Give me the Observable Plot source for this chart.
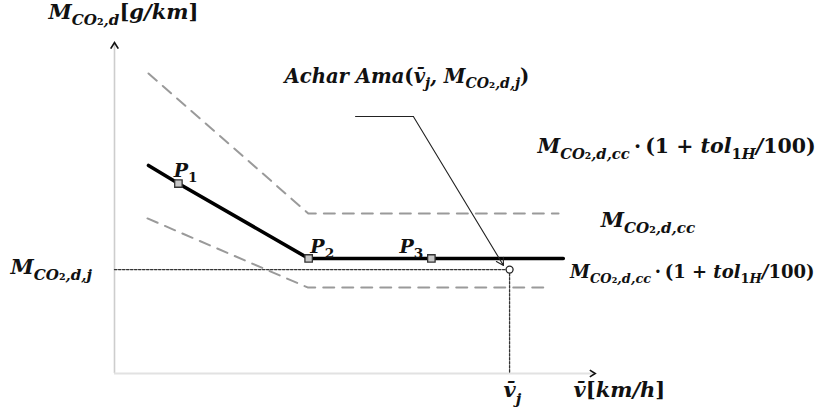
<!DOCTYPE html>
<html>
<head>
<meta charset="utf-8">
<script src="https://cdn.jsdelivr.net/npm/d3@7"></script>
<script src="https://cdn.jsdelivr.net/npm/@observablehq/plot@0.6"></script>
<style>
  body { margin: 0; background: #fff; }
</style>
</head>
<body>
<div id="chart"></div>
<script>
// Reference CO2 curve: speed (km/h) against CO2 mass emission (g/km)
const curveSpeed = [10, 18.8, 57.1, 93.2, 132];
const curveMass  = [125.7, 114.8, 69.5, 69.5, 69.5];

// Interpolation nodes on the curve
const nodeNames = ["P_{1}", "P_{2}", "P_{3}"];
const nodeSpeed = [18.8, 57.1, 93.2];
const nodeMass  = [114.8, 69.5, 69.5];

// Tolerance band around the curve
const upperSpeed = [10, 57, 130.6];
const upperMass  = [181.3, 96.7, 96.7];
const lowerSpeed = [9.7, 56.8, 126.8];
const lowerMass  = [93.7, 52, 52];

// Test point j
const testSpeed = 116.2;
const testMass  = 62.8;

// Annotation leader: horizontal run, then arrow to the test point
const leaderSpeed = [70.9, 87.9, 114.4];
const leaderMass  = [155.3, 155.3, 65.3];

// Axis extents (arrow tips)
const axisSpeedEnd = 141.4;
const axisMassEnd  = 200;

// Formula labels (subscripts written as _{...}) and their anchors
const labelText = [
  "M_{CO₂,d}[g/km]",
  "Achar Ama(v̄_{j}, M_{CO₂,d,j})",
  "M_{CO₂,d,cc}\u2009·\u2009(1 + tol_{1H}/100)",
  "M_{CO₂,d,cc}",
  "M_{CO₂,d,cc}\u2009·\u2009(1 + tol_{1H}/100)",
  "M_{CO₂,d,j}",
  "v̄_{j}",
  "v̄[km/h]"
];
const labelSpeed = [-19.4, 50, 124.4, 143, 134, -30.6, 114.4, 135];
const labelMass  = [214.5, 175.8, 133.5, 88.8, 58, 60.4, -14.5, -14.5];
const nodeLabelSpeed = [17.4, 57.6, 83.8];
const nodeLabelMass  = [119, 73, 73];

const labelSizes = [21, 19.6, 20.5, 21, 18, 21, 21, 21];

const labels = labelText.map((t, i) => ({t, x: labelSpeed[i], y: labelMass[i], s: labelSizes[i]}));
const nodeLabels = nodeNames.map((t, i) => ({t, x: nodeLabelSpeed[i], y: nodeLabelMass[i]}));

const pts = (xs, ys) => xs.map((x, i) => ({x, y: ys[i]}));
const curve = pts(curveSpeed, curveMass);
const nodes = pts(nodeSpeed, nodeMass);
const upper = pts(upperSpeed, upperMass);
const lower = pts(lowerSpeed, lowerMass);

// Open chevrons for the axis arrow tips (tip at the anchor point)
const chevronUp = {draw(ctx, size) { const r = Math.sqrt(size / Math.PI); ctx.moveTo(-r, 1.6 * r); ctx.lineTo(0, 0); ctx.lineTo(r, 1.6 * r); }};
const chevronRight = {draw(ctx, size) { const r = Math.sqrt(size / Math.PI); ctx.moveTo(-1.6 * r, -r); ctx.lineTo(0, 0); ctx.lineTo(-1.6 * r, r); }};

const font = {fontFamily: "DejaVu Serif", fontWeight: "bold", fontStyle: "italic", fill: "#111", textAnchor: "start", lineAnchor: "bottom"};

const chart = Plot.plot({
  width: 815,
  height: 408,
  marginLeft: 114,
  marginRight: 225,
  marginTop: 42,
  marginBottom: 35,
  x: {domain: [0, 140], axis: null},
  y: {domain: [0, 200], axis: null},
  style: {background: "#fff", overflow: "visible"},
  marks: [
    // axes
    Plot.ruleX([0], {y1: 0, y2: axisMassEnd - 1, stroke: "#cdcdcd", strokeWidth: 1.6}),
    Plot.ruleY([0], {x1: 0, x2: axisSpeedEnd - 0.5, stroke: "#e2e2e2", strokeWidth: 2}),
    Plot.dot([{x: 0, y: axisMassEnd}], {x: "x", y: "y", symbol: chevronUp, r: 3.8, fill: "none", stroke: "#111", strokeWidth: 1.7}),
    Plot.dot([{x: axisSpeedEnd, y: 0}], {x: "x", y: "y", symbol: chevronRight, r: 3.4, fill: "none", stroke: "#111", strokeWidth: 1.6}),
    // tolerance band
    Plot.line(upper, {x: "x", y: "y", stroke: "#9a9a9a", strokeWidth: 2, strokeDasharray: "11,8"}),
    Plot.line(lower, {x: "x", y: "y", stroke: "#9a9a9a", strokeWidth: 2, strokeDasharray: "11,8"}),
    // projection of the test point
    Plot.line([{x: 0, y: testMass}, {x: testSpeed, y: testMass}], {x: "x", y: "y", stroke: "#333", strokeWidth: 1.3, strokeDasharray: "2.5,1.5"}),
    Plot.line([{x: testSpeed, y: testMass}, {x: testSpeed, y: 0}], {x: "x", y: "y", stroke: "#333", strokeWidth: 1.3, strokeDasharray: "2.5,1.5"}),
    // reference curve
    Plot.line(curve, {x: "x", y: "y", stroke: "#000", strokeWidth: 3.6}),
    Plot.dot(nodes, {x: "x", y: "y", symbol: "square", r: 4.2, fill: "#c8c8c8", stroke: "#333", strokeWidth: 1.3}),
    Plot.dot([{x: testSpeed, y: testMass}], {x: "x", y: "y", r: 3.5, fill: "#fff", stroke: "#222", strokeWidth: 1.3}),
    // annotation leader
    Plot.line(pts(leaderSpeed.slice(0, 2), leaderMass.slice(0, 2)), {x: "x", y: "y", stroke: "#222", strokeWidth: 1.1}),
    Plot.arrow([{x1: leaderSpeed[1], y1: leaderMass[1], x2: leaderSpeed[2], y2: leaderMass[2]}], {x1: "x1", y1: "y1", x2: "x2", y2: "y2", stroke: "#222", strokeWidth: 1.1, headLength: 11}),
    // labels
    ...labels.map(d => Plot.text([d], {x: "x", y: "y", text: "t", fontSize: d.s, ...font})),
    Plot.text(nodeLabels, {x: "x", y: "y", text: "t", fontSize: 19, ...font})
  ]
});

document.getElementById("chart").appendChild(chart);

// Turn the _{...} markup into subscript tspans; digits and delimiters upright
function parseRich(s) {
  const out = [];
  let level = 0, buf = "";
  const flush = () => { if (buf) out.push({t: buf, level}); buf = ""; };
  for (let i = 0; i < s.length; i++) {
    const c = s[i];
    if (c === "_" && s[i + 1] === "{") { flush(); level++; i++; }
    else if (c === "}" && level > 0) { flush(); level--; }
    else buf += c;
  }
  flush();
  return out;
}
const upright = /[0-9()\[\]+·₂]/;
const splitRuns = t => {
  const runs = [];
  for (const ch of t) {
    const u = upright.test(ch);
    if (runs.length && runs[runs.length - 1].u === u) runs[runs.length - 1].t += ch;
    else runs.push({t: ch, u});
  }
  return runs;
};
const subScale = [1, 0.72, 0.6];
const subShift = [0, 0.3, 0.5];
const NS = "http://www.w3.org/2000/svg";
chart.querySelectorAll("text").forEach(el => {
  const raw = el.textContent;
  const base = parseFloat(getComputedStyle(el).fontSize);
  const segs = parseRich(raw);
  el.textContent = "";
  let prev = 0;
  for (const seg of segs) {
    let first = true;
    for (const run of splitRuns(seg.t)) {
      const ts = document.createElementNS(NS, "tspan");
      ts.setAttribute("font-size", base * subScale[seg.level]);
      if (first) {
        ts.setAttribute("dy", ((subShift[seg.level] - prev) * base).toFixed(2));
        first = false;
      }
      if (run.u) ts.setAttribute("font-style", "normal");
      ts.textContent = run.t;
      el.appendChild(ts);
    }
    prev = subShift[seg.level];
  }
});
</script>
</body>
</html>
